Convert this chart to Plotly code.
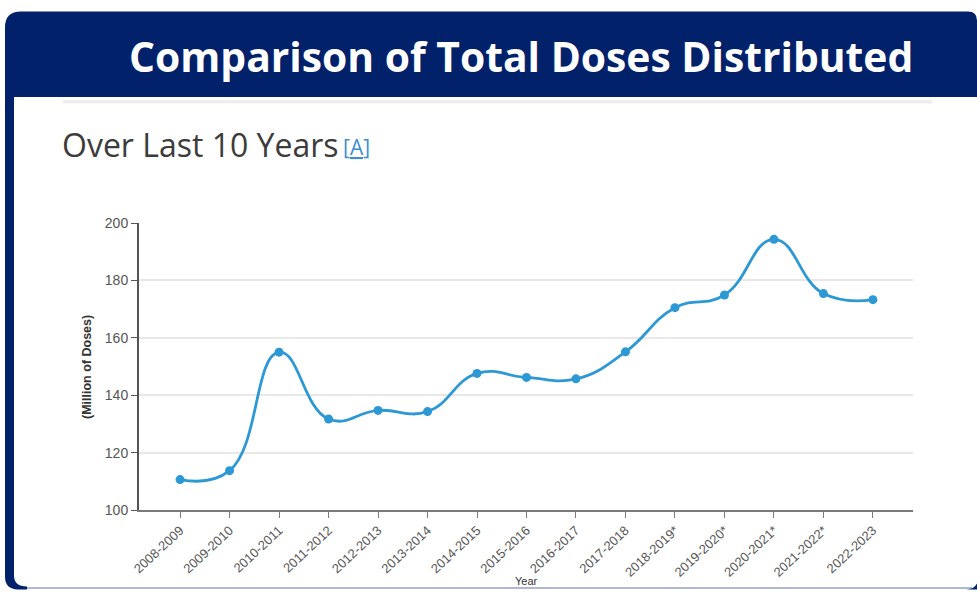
import plotly.graph_objects as go

# ---- data ----
seasons = ["2008-2009", "2009-2010", "2010-2011", "2011-2012", "2012-2013",
           "2013-2014", "2014-2015", "2015-2016", "2016-2017", "2017-2018",
           "2018-2019*", "2019-2020*", "2020-2021*", "2021-2022*", "2022-2023"]
doses_millions = [110.6, 113.7, 155.0, 131.7, 134.7, 134.3, 147.6, 146.2, 145.7,
                  155.1, 170.5, 174.9, 194.3, 175.4, 173.3]
y_ticks = [100, 120, 140, 160, 180, 200]

title_text = "Comparison of Total Doses Distributed"
subtitle_text = "Over Last 10 Years"
y_title = "(Million of Doses)"
x_title = "Year"

# ---- geometry helpers (page pixels -> paper) ----
W, H = 977, 592
L, R, T, B = 139, 64, 223, 80
PW, PH = W - L - R, H - T - B


def px(x):
    return (x - L) / PW


def py(y):
    return (H - B - y) / PH


def path(points_cmds):
    out = []
    for cmd, pts in points_cmds:
        coords = " ".join(f"{px(x):.5f},{py(y):.5f}" for x, y in pts)
        out.append(f"{cmd} {coords}")
    return " ".join(out) + " Z"


NAVY = "#01216A"
BLUE = "#2C98D4"

fig = go.Figure()
fig.add_trace(go.Scatter(
    x=seasons, y=doses_millions, mode="lines+markers",
    line=dict(color=BLUE, width=2.8, shape="spline", smoothing=1.3),
    marker=dict(color=BLUE, size=9),
    hoverinfo="x+y", showlegend=False,
))

frame = path([
    ("M", [(5, 26)]),
    ("Q", [(5, 10), (21, 10)]),
    ("L", [(968, 10)]),
    ("Q", [(977, 10), (977, 19)]),
    ("L", [(977, 96)]),
    ("L", [(14, 96)]),
    ("L", [(14, 578)]),
    ("Q", [(14, 589), (27, 589)]),
    ("L", [(27, 592)]),
    ("L", [(18, 592)]),
    ("Q", [(5, 592), (5, 579)]),
])
corner = path([
    ("M", [(966, 592)]),
    ("Q", [(974, 592), (977, 586)]),
    ("L", [(977, 592)]),
])

shapes = [
    dict(type="line", xref="paper", yref="paper", x0=px(63), x1=px(932),
         y0=py(101), y1=py(101), line=dict(color="#ececec", width=3), layer="below"),
    dict(type="line", xref="paper", yref="paper", x0=px(14), x1=px(972),
         y0=py(590.5), y1=py(590.5), line=dict(color="#AEB8CE", width=2), layer="above"),
    dict(type="path", xref="paper", yref="paper", path=frame,
         fillcolor=NAVY, line=dict(width=0), layer="above"),
    dict(type="path", xref="paper", yref="paper", path=corner,
         fillcolor=NAVY, line=dict(width=0), layer="above"),
]

annotations = [
    dict(text=f"<b>{title_text}</b>", xref="paper", yref="paper",
         x=px(521), y=py(55), xanchor="center", yanchor="middle", showarrow=False,
         font=dict(family="Open Sans", size=40.8, color="white")),
    dict(text=subtitle_text, xref="paper", yref="paper",
         x=px(60), y=py(144), xanchor="left", yanchor="middle", showarrow=False,
         font=dict(family="Open Sans", size=32, color="#3c3c3c")),
    dict(text="[<u>A</u>]", xref="paper", yref="paper",
         x=px(341), y=py(146), xanchor="left", yanchor="middle", showarrow=False,
         font=dict(family="Open Sans", size=21, color="#3D8FCF")),
    dict(text=f"<b>{y_title}</b>", xref="paper", yref="paper", textangle=-90,
         x=px(87), y=py(368), xanchor="center", yanchor="middle", showarrow=False,
         font=dict(family="Liberation Sans", size=12.5, color="#333")),
    dict(text=x_title, xref="paper", yref="paper",
         x=px(526), y=py(575), xanchor="center", yanchor="top", showarrow=False,
         font=dict(family="Liberation Sans", size=11, color="#333")),
]

fig.update_layout(
    width=W, height=H, autosize=False,
    margin=dict(l=L, r=R, t=T, b=B, pad=0),
    paper_bgcolor="white", plot_bgcolor="white",
    shapes=shapes, annotations=annotations,
    xaxis=dict(
        type="category", range=[-0.83, 14.81], tickangle=-43,
        showline=True, linecolor="#7a7a7a", linewidth=1.5,
        ticks="outside", ticklen=6, tickcolor="#7a7a7a", tickwidth=1.2,
        showgrid=False, zeroline=False,
        tickfont=dict(family="Liberation Sans", size=13, color="#555"),
    ),
    yaxis=dict(
        range=[100, 200], tickvals=y_ticks,
        showline=True, linecolor="#555", linewidth=2,
        ticks="outside", ticklen=6, tickcolor="#555", tickwidth=1.2,
        showgrid=True, gridcolor="#e8e8e8", gridwidth=2, zeroline=False,
        tickfont=dict(family="Liberation Sans", size=14, color="#555"),
    ),
)

fig.write_html("out.html")
